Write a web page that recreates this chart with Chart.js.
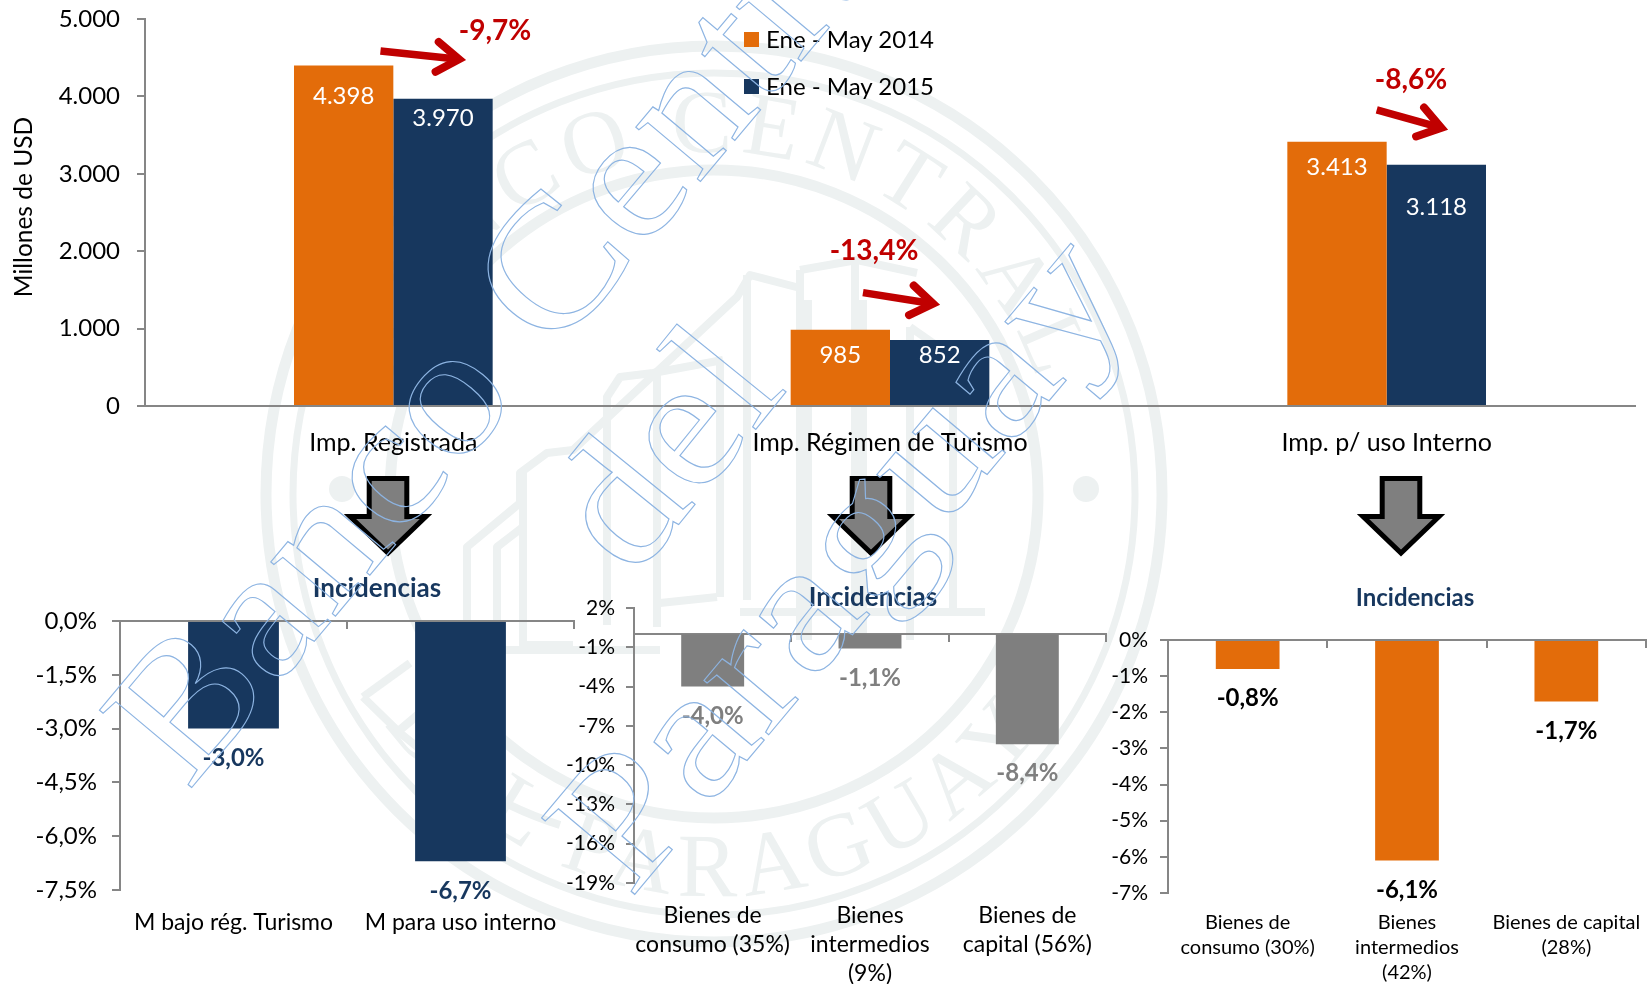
<!DOCTYPE html>
<html lang="es">
<head>
<meta charset="utf-8">
<title>Importaciones</title>
<script src="https://cdn.jsdelivr.net/npm/chart.js@4"></script>
<style>
html,body{margin:0;padding:0;background:#fff;overflow:hidden}
#stage{position:relative;width:1648px;height:984px;overflow:hidden;font-family:Lato,sans-serif}
canvas{position:absolute;z-index:2}
svg{position:absolute;left:0;top:0}
.note{position:absolute;z-index:3;white-space:nowrap;transform:translate(-50%,-50%);line-height:1}
.red{color:#C00000;font-weight:700;font-size:28px}
.inc{color:#17375E;font-weight:700;font-size:26px}
.leg{position:absolute;z-index:3;white-space:nowrap;font-size:24px;line-height:1;color:#000}
.sw{position:absolute;z-index:3;width:15px;height:15px}
</style>
</head>
<body>
<div id="stage">
<svg id="seal" width="1648" height="984" style="z-index:1">
  <defs>
    <path id="arcTop" d="M373 494 A342 342 0 0 1 1057 494"/>
    <path id="arcBot" d="M313 494 A402 402 0 0 0 1117 494"/>
  </defs>
  <g fill="none" stroke="#EDF1F1">
    <circle cx="714" cy="494" r="448" stroke-width="11"/>
    <circle cx="714" cy="494" r="421" stroke-width="7"/>
    <circle cx="714" cy="494" r="324" stroke-width="11"/>
  </g>
  <circle cx="342" cy="489" r="13" fill="#EDF1F1"/>
  <circle cx="1086" cy="489" r="13" fill="#EDF1F1"/>
  <g fill="none" stroke="#EDF1F1" stroke-width="8" stroke-linejoin="round">
    <path d="M467 650 V547 L520 503 V473 L547 453 L573 450 L737 297 L750 275 L800 288"/>
    <path d="M497 650 V547 L523 527"/>
    <path d="M523 473 V645 H573"/>
    <path d="M607 625 V397 L620 377 L653 373 L723 360"/>
    <path d="M657 373 V627"/>
    <path d="M720 360 V597"/>
    <path d="M660 603 L717 597"/>
    <path d="M747 275 V600"/>
    <path d="M800 270 V640"/>
    <path d="M808 300 V640"/>
    <path d="M800 270 L857 260 L917 273"/>
    <path d="M855 260 V640"/>
    <path d="M863 300 V640"/>
    <path d="M910 327 V640"/>
    <path d="M910 327 L953 357 V610"/>
    <path d="M480 650 H660"/>
    <path d="M740 612 H985"/>
    <path d="M363 697 L410 663"/>
    <path d="M363 697 L400 733 Q480 800 560 825"/>
  </g>
  <g style="font-family:'Liberation Serif',serif;font-size:90px;letter-spacing:8px" fill="#EDF1F1" text-anchor="middle">
    <text><textPath href="#arcTop" startOffset="50%">BANCO CENTRAL</textPath></text>
    <text><textPath href="#arcBot" startOffset="50%">DEL PARAGUAY</textPath></text>
  </g>
</svg>
<canvas id="cTop" width="1648" height="470" style="left:0;top:0"></canvas>
<canvas id="cTur" width="600" height="384" style="left:0;top:600px"></canvas>
<canvas id="cInt" width="590" height="394" style="left:560px;top:590px"></canvas>
<canvas id="cUso" width="548" height="364" style="left:1100px;top:620px"></canvas>
<svg id="shapes" width="1648" height="984" style="z-index:3"></svg>
<div id="notes"></div>
<svg id="water" width="1648" height="984" style="z-index:4;pointer-events:none">
  <g fill="none" stroke="#8DB4E2" stroke-width="1.1" style="font-family:'Liberation Serif',serif;font-size:184px">
    <text transform="translate(188 792) rotate(-50) scale(1.1 1)">Banco Central</text>
    <text transform="translate(633 581) rotate(-51) scale(1.1 1)">del</text>
    <text transform="translate(630 900) rotate(-50) scale(1.15 1)">Paraguay</text>
  </g>
</svg>
</div>
<script>
// ---- data ----
const topCategories = ["Imp. Registrada", "Imp. Régimen de Turismo", "Imp. p/ uso Interno"];
const seriesNames = ["Ene - May 2014", "Ene - May 2015"];
const values2014 = [4398, 985, 3413];
const values2015 = [3970, 852, 3118];
const topTicks = [5000, 4000, 3000, 2000, 1000, 0];
const topTickLabels = ["5.000", "4.000", "3.000", "2.000", "1.000", "0"];

const turismoCategories = ["M bajo rég. Turismo", "M para uso interno"];
const turismoValues = [-3.0, -6.7];
const turismoTicks = [0, -1.5, -3, -4.5, -6, -7.5];
const turismoTickLabels = ["0,0%", "-1,5%", "-3,0%", "-4,5%", "-6,0%", "-7,5%"];

const intermediosCategories = [["Bienes de", "consumo (35%)"], ["Bienes", "intermedios", "(9%)"], ["Bienes de", "capital (56%)"]];
const intermediosValues = [-4.0, -1.1, -8.4];
const intermediosTicks = [2, -1, -4, -7, -10, -13, -16, -19];
const intermediosTickLabels = ["2%", "-1%", "-4%", "-7%", "-10%", "-13%", "-16%", "-19%"];

const usoCategories = [["Bienes de", "consumo (30%)"], ["Bienes", "intermedios", "(42%)"], ["Bienes de capital", "(28%)"]];
const usoValues = [-0.8, -6.1, -1.7];
const usoTicks = [0, -1, -2, -3, -4, -5, -6, -7];
const usoTickLabels = ["0%", "-1%", "-2%", "-3%", "-4%", "-5%", "-6%", "-7%"];

const changeLabels = ["-9,7%", "-13,4%", "-8,6%"];
const incidenciasTitle = "Incidencias";

// ---- styling ----
const ORANGE = "#E36C0A", NAVY = "#17375E", GREY = "#7F7F7F", AXIS = "#868686", FONT = "Lato";

const thousands = v => String(v).replace(/\B(?=(\d{3})+$)/g, ".");
const percent = v => v.toFixed(1).replace(".", ",") + "%";

const barLabels = {
  id: "barLabels",
  afterDatasetsDraw(chart, args, opts) {
    const ctx = chart.ctx;
    ctx.save();
    ctx.textAlign = "center";
    ctx.textBaseline = "middle";
    ctx.font = `${opts.weight} ${opts.size}px ${FONT}`;
    chart.data.datasets.forEach((ds, d) => {
      chart.getDatasetMeta(d).data.forEach((el, i) => {
        const drop = opts.drops ? opts.drops[d][i] : opts.drop;
        ctx.fillStyle = opts.color;
        ctx.fillText(opts.format(ds.data[i]), el.x, el.y + drop);
      });
    });
    ctx.restore();
  }
};

function yScale(min, max, ticks, labels, fontSize, pad, width) {
  return {
    type: "linear", min, max,
    afterBuildTicks: s => { s.ticks = ticks.map(value => ({ value })); },
    afterFit: s => { s.width = width; s.paddingTop = 0; s.paddingBottom = 0; },
    border: { color: AXIS, width: 2 },
    grid: { drawOnChartArea: false, color: AXIS, lineWidth: 2, tickLength: 8, offset: false },
    ticks: {
      autoSkip: false, color: "#000", padding: pad,
      font: { family: FONT, size: fontSize },
      callback: (v, i) => labels[i]
    }
  };
}

function lowerChart(id, cats, values, color, labelColor, ticks, tickLabels, min, max, tickFont, catFont, lineH, catPad, yPad, yWidth, padding, xHeight) {
  return new Chart(document.getElementById(id), {
    type: "bar",
    data: {
      labels: cats,
      datasets: [{ data: values, backgroundColor: color, categoryPercentage: 0.4, barPercentage: 1, xAxisID: "x", yAxisID: "y" }]
    },
    options: {
      responsive: false, animation: false,
      layout: { autoPadding: false, padding },
      plugins: {
        legend: { display: false }, tooltip: { enabled: false },
        barLabels: { color: labelColor, weight: 700, size: 24, drop: 29.5, format: percent }
      },
      scales: {
        x: {
          type: "category", position: { y: 0 }, offset: true,
          border: { color: AXIS, width: 2 },
          grid: { drawOnChartArea: false, drawTicks: true, tickLength: 7, offset: true, color: AXIS, lineWidth: 2 },
          ticks: { display: false }
        },
        xLabels: {
          type: "category", axis: "x", position: "bottom", offset: true, labels: cats,
          afterFit: s => { s.height = xHeight; s.paddingLeft = 0; s.paddingRight = 0; },
          border: { display: false },
          grid: { display: false },
          ticks: { autoSkip: false, maxRotation: 0, minRotation: 0, color: "#000", padding: catPad, font: { family: FONT, size: catFont, lineHeight: lineH } }
        },
        y: yScale(min, max, ticks, tickLabels, tickFont, yPad, yWidth)
      }
    },
    plugins: [barLabels]
  });
}

new Chart(document.getElementById("cTop"), {
  type: "bar",
  data: {
    labels: topCategories,
    datasets: [
      { label: seriesNames[0], data: values2014, backgroundColor: ORANGE, categoryPercentage: 0.4, barPercentage: 1 },
      { label: seriesNames[1], data: values2015, backgroundColor: NAVY, categoryPercentage: 0.4, barPercentage: 1 }
    ]
  },
  options: {
    responsive: false, animation: false,
    layout: { autoPadding: false, padding: { left: 0, right: 13, top: 19, bottom: 0 } },
    plugins: {
      legend: { display: false }, tooltip: { enabled: false },
      barLabels: { color: "#fff", weight: 400, size: 24, drops: [[31, 26, 25], [20, 15, 43]], format: thousands }
    },
    scales: {
      x: {
        offset: true,
        afterFit: s => { s.height = 64; s.paddingLeft = 0; s.paddingRight = 0; },
        border: { color: AXIS, width: 2 },
        grid: { display: false },
        ticks: { autoSkip: false, maxRotation: 0, color: "#000", padding: 14, font: { family: FONT, size: 25 } }
      },
      y: yScale(0, 5000, topTicks, topTickLabels, 24, 17, 145)
    }
  },
  plugins: [barLabels]
});

lowerChart("cTur", turismoCategories, turismoValues, NAVY, NAVY, turismoTicks, turismoTickLabels, -7.5, 0, 24, 23, 1.2, 10.5, 15, 120,
  { left: 0, right: 26, top: 21, bottom: 0 }, 94);
lowerChart("cInt", intermediosCategories, intermediosValues, GREY, GREY, intermediosTicks, intermediosTickLabels, -19, 2, 21, 23, 1.26, 10.5, 11, 74,
  { left: 0, right: 44, top: 18, bottom: 0 }, 101);
lowerChart("cUso", usoCategories, usoValues, ORANGE, "#000", usoTicks, usoTickLabels, -7, 0, 21, 20, 1.26, 9, 12, 68,
  { left: 0, right: 2, top: 20, bottom: 0 }, 91);

// ---- annotations ----
const notes = document.getElementById("notes");
function note(text, x, y, cls) {
  const d = document.createElement("div");
  d.className = "note " + cls;
  d.textContent = text;
  d.style.left = x + "px"; d.style.top = y + "px";
  notes.appendChild(d);
  return d;
}
note(changeLabels[0], 495, 29, "red");
note(changeLabels[1], 874, 249, "red");
note(changeLabels[2], 1411, 78, "red");
note(incidenciasTitle, 377, 587, "inc");
note(incidenciasTitle, 873, 596, "inc");
note(incidenciasTitle, 1415, 597, "inc").style.fontSize = "24px";
const axisTitle = note("Millones de USD", 23, 207, "");
axisTitle.style.transform = "translate(-50%,-50%) rotate(-90deg)";
axisTitle.style.fontSize = "24.5px";
axisTitle.style.color = "#000";

[[ORANGE, 32, 27], [NAVY, 79, 74]].forEach(([c, y, ty], i) => {
  const s = document.createElement("div");
  s.className = "sw"; s.style.background = c; s.style.left = "744px"; s.style.top = y + "px";
  notes.appendChild(s);
  const t = document.createElement("div");
  t.className = "leg"; t.textContent = seriesNames[i]; t.style.left = "766px"; t.style.top = ty + "px";
  notes.appendChild(t);
});

const NS = "http://www.w3.org/2000/svg";
const shapes = document.getElementById("shapes");
function el(tag, attrs, parent) {
  const e = document.createElementNS(NS, tag);
  for (const k in attrs) e.setAttribute(k, attrs[k]);
  (parent || shapes).appendChild(e);
  return e;
}
function redArrow(x, y, angle, len) {
  const g = el("g", { transform: `translate(${x} ${y}) rotate(${angle})`, fill: "none", stroke: "#C00000" });
  el("line", { x1: -len, y1: 0, x2: -8, y2: 0, "stroke-width": 7.5 }, g);
  el("polyline", { points: "-30,-15 -8,0 -30,15", "stroke-width": 8, "stroke-linecap": "round", "stroke-linejoin": "miter" }, g);
}
redArrow(467, 60, 6, 87);
redArrow(941, 305, 9, 79);
redArrow(1449, 130, 15.5, 75);

function blockArrow(c) {
  el("path", {
    d: `M${c - 18.8} 478.5 H${c + 18.8} V516.5 H${c + 38} L${c} 553 L${c - 38} 516.5 H${c - 18.8} Z`,
    fill: GREY, stroke: "#000", "stroke-width": 5, "stroke-miterlimit": 6
  });
}
[388, 871, 1401].forEach(blockArrow);
</script>
</body>
</html>
